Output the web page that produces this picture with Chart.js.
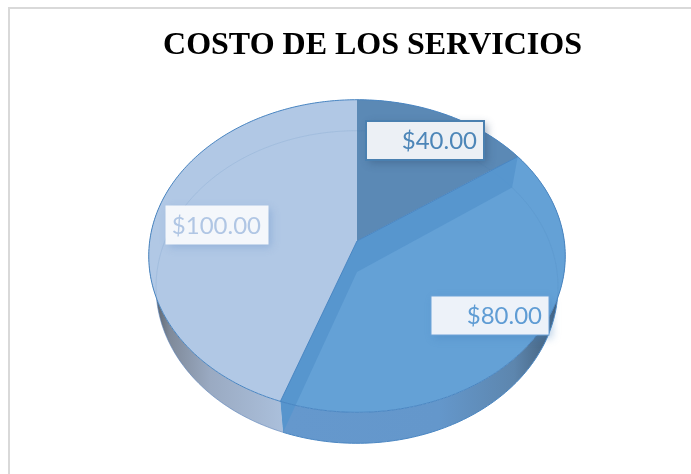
<!DOCTYPE html>
<html>
<head>
<meta charset="utf-8">
<title>Costo de los servicios</title>
<script src="https://cdn.jsdelivr.net/npm/chart.js@4"></script>
<style>
  html, body { margin: 0; height: 100%; overflow: hidden; background: #fff; }
  #frame { position: absolute; left: 8px; top: 7px; width: 800px; height: 600px; border: 2px solid #d9d9d9; }
  #wrap { position: absolute; left: 0; top: 0; width: 691px; height: 480px; }
</style>
</head>
<body>
<div id="frame"></div>
<div id="wrap"><canvas id="costChart"></canvas></div>
<script>
const categories = ['Servicio 1', 'Servicio 2', 'Servicio 3'];
const costs = [40, 80, 100];
const chartTitle = 'COSTO DE LOS SERVICIOS';

const faceColors = ['#5b89b5', '#64a1d6', '#b1c8e5'];
const cutColor = '#5595cd';
const edgeColor = '#4a86c2';
// wall shading, left to right
const wallStops = [
  [[0, '#6d8fb2'], [1, '#5f86ac']],
  [[0, '#6598cd'], [0.55, '#6497cb'], [0.82, '#5d86ae'], [1, '#3d566f']],
  [[0, '#4c555f'], [0.15, '#7f8a9a'], [0.45, '#9aaac2'], [1, '#abc0dc']]
];
const labelBoxes = [
  { x: 366, y: 121, w: 118, h: 39, fill: '#ecf0f5', text: '#4d86b8', border: '#4a80b0', lw: 2, shadow: 'rgba(50,80,115,0.45)' },
  { x: 431, y: 296, w: 118, h: 39, fill: '#edf2f9', text: '#5f9cd4', border: '#6ea3d8', lw: 1, shadow: 'rgba(70,130,190,0.4)' },
  { x: 166, y: 206, w: 102, h: 38, fill: '#f4f7fb', text: '#b0c6e4', border: '#f4f7fb', lw: 1, shadow: 'rgba(110,150,205,0.45)' }
];

// view of the tilted disc
const apexX = 357, apexY = 241;
const tilt = 0.747, persp = -0.096, warp = 0.2025;
const depth = 31, baseScale = 0.965;

function project(angle, r, z) {
  const t = angle + Math.PI / 2;
  const a = t - warp * Math.sin(t);
  const u = Math.sin(a), v = -Math.cos(a);
  const w = 1 + persp * v;
  const s = z ? baseScale : 1;
  return [apexX + s * r * u / w, apexY + (z ? depth : 0) + r * tilt * v / w];
}

function rimPath(ctx, r, z, from, to, move) {
  const steps = Math.max(2, Math.ceil(Math.abs(to - from) * 60));
  for (let i = 0; i <= steps; i++) {
    const p = project(from + (to - from) * i / steps, r, z);
    if (i === 0 && move) ctx.moveTo(p[0], p[1]);
    else ctx.lineTo(p[0], p[1]);
  }
}

const tiltedPie = {
  id: 'tiltedPie',
  beforeDatasetDraw(chart) {
    const ctx = chart.ctx;
    const arcs = chart.getDatasetMeta(0).data;
    const r = arcs[0].outerRadius;
    const full = [arcs[0].startAngle, arcs[arcs.length - 1].endAngle];
    ctx.save();

    // outer walls
    arcs.forEach((arc, i) => {
      const g = ctx.createLinearGradient(i === 2 ? apexX - r : i === 1 ? 285 : apexX, 0, i === 2 ? 285 : apexX + r, 0);
      wallStops[i].forEach(s => g.addColorStop(s[0], s[1]));
      ctx.beginPath();
      rimPath(ctx, r, false, arc.startAngle, arc.endAngle, true);
      rimPath(ctx, r, true, arc.endAngle, arc.startAngle, false);
      ctx.closePath();
      ctx.fillStyle = g;
      ctx.fill();
    });
    ctx.beginPath();
    rimPath(ctx, r, true, arcs[1].startAngle, arcs[1].endAngle, true);
    ctx.strokeStyle = edgeColor;
    ctx.lineWidth = 1;
    ctx.stroke();
    ctx.beginPath();
    rimPath(ctx, r, true, arcs[2].startAngle, arcs[2].endAngle, true);
    ctx.strokeStyle = 'rgba(90,130,185,0.6)';
    ctx.stroke();

    // top faces
    arcs.forEach(arc => {
      ctx.beginPath();
      ctx.moveTo(apexX, apexY);
      rimPath(ctx, r, false, arc.startAngle, arc.endAngle, false);
      ctx.closePath();
      ctx.fillStyle = arc.options.backgroundColor;
      ctx.fill();
    });

    // base seen through the faces
    ctx.save();
    ctx.beginPath();
    rimPath(ctx, r, false, full[0], full[1], true);
    ctx.closePath();
    ctx.clip();
    ctx.beginPath();
    rimPath(ctx, r, true, full[0], full[1], true);
    ctx.closePath();
    ctx.strokeStyle = 'rgba(70,120,175,0.13)';
    ctx.stroke();
    ctx.restore();

    // cut walls of the middle slice
    [arcs[1].startAngle, arcs[1].endAngle].forEach(angle => {
      const top = project(angle, r, false), low = project(angle, r, true);
      ctx.beginPath();
      ctx.moveTo(apexX, apexY);
      ctx.lineTo(top[0], top[1]);
      ctx.lineTo(low[0], low[1]);
      ctx.lineTo(apexX, apexY + depth);
      ctx.closePath();
      ctx.fillStyle = cutColor;
      ctx.globalAlpha = 0.9;
      ctx.fill();
      ctx.globalAlpha = 1;
    });

    // edges
    ctx.strokeStyle = edgeColor;
    ctx.lineWidth = 1;
    ctx.beginPath();
    rimPath(ctx, r, false, full[0], full[1], true);
    ctx.stroke();
    [arcs[1].startAngle, arcs[1].endAngle].forEach(angle => {
      const top = project(angle, r, false);
      ctx.beginPath();
      ctx.moveTo(apexX, apexY);
      ctx.lineTo(top[0], top[1]);
      ctx.stroke();
    });

    ctx.restore();
    return false;
  },
  afterDatasetsDraw(chart) {
    const ctx = chart.ctx;
    costs.forEach((value, i) => {
      const b = labelBoxes[i];
      ctx.save();
      ctx.shadowColor = b.shadow;
      ctx.shadowBlur = 8;
      ctx.shadowOffsetX = 3;
      ctx.shadowOffsetY = 3;
      ctx.fillStyle = b.fill;
      ctx.fillRect(b.x, b.y, b.w, b.h);
      ctx.restore();
      ctx.strokeStyle = b.border;
      ctx.lineWidth = b.lw;
      ctx.strokeRect(b.x, b.y, b.w, b.h);
      ctx.fillStyle = b.text;
      ctx.font = '24px Lato';
      ctx.textAlign = 'right';
      ctx.textBaseline = 'middle';
      ctx.fillText('$' + value.toFixed(2), b.x + b.w - 7, b.y + b.h / 2 + 1);
    });
  }
};

new Chart(document.getElementById('costChart'), {
  type: 'pie',
  data: {
    labels: categories,
    datasets: [{ data: costs, backgroundColor: faceColors, borderWidth: 0 }]
  },
  options: {
    responsive: true,
    maintainAspectRatio: false,
    animation: false,
    layout: { padding: { left: 54 } },
    plugins: {
      legend: { display: false },
      tooltip: { enabled: false },
      title: {
        display: true,
        text: chartTitle,
        color: '#000',
        font: { family: 'Liberation Serif', size: 32, weight: 'bold' },
        padding: { top: 27, bottom: 0 }
      }
    }
  },
  plugins: [tiltedPie]
});
</script>
</body>
</html>
